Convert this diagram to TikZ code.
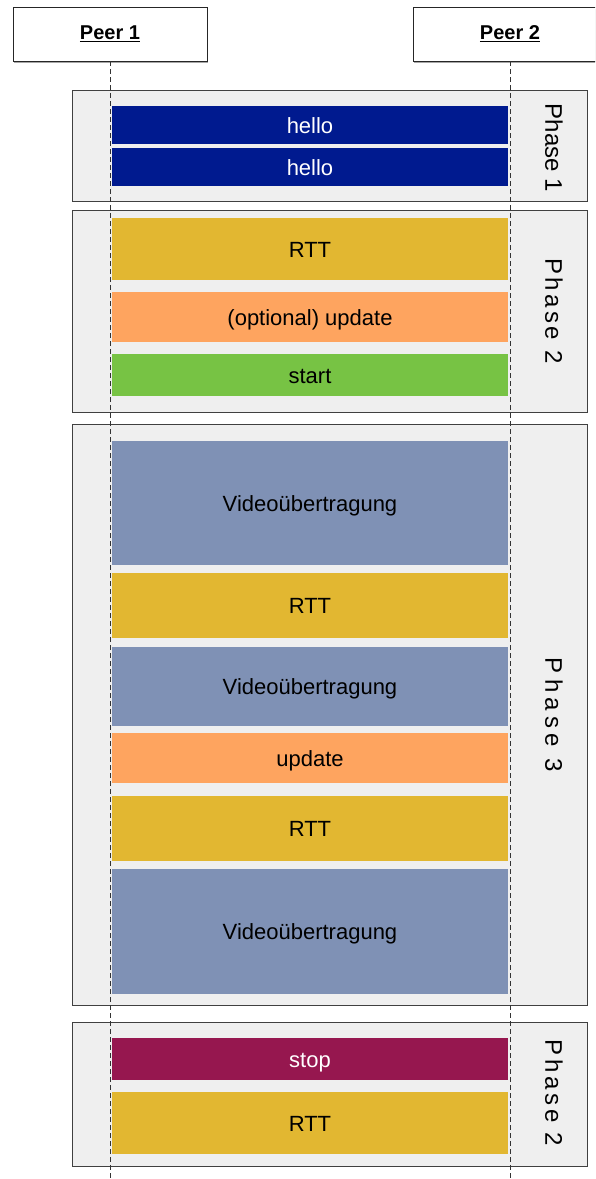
\documentclass[tikz,border=0pt]{standalone}
\usepackage{fontspec}
\setmainfont{Liberation Sans}
\usepackage{tikz}
\usetikzlibrary{shadows}
\usetikzlibrary{positioning}
\definecolor{sd-frame}{HTML}{EFEFEF}
\definecolor{sd-hello}{HTML}{001A8F}
\definecolor{sd-rtt}{HTML}{E2B731}
\definecolor{sd-update}{HTML}{FEA45F}
\definecolor{sd-start}{HTML}{77C344}
\definecolor{sd-video}{HTML}{7F91B5}
\definecolor{sd-stop}{HTML}{96174F}

\begin{document}
\begin{tikzpicture}[x=1pt, y=-1pt,
    peer/.style={draw=black!85, fill=white, line width=0.8pt, minimum width=194pt, minimum height=54pt,
        font=\fontsize{20}{24}\selectfont\bfseries,
        drop shadow={shadow xshift=1pt, shadow yshift=-2pt, opacity=0.35, fill=black}},
    phase/.style={draw=black!75, fill=sd-frame, line width=0.8pt, minimum width=515pt, inner sep=0pt},
    msg/.style={minimum width=396pt, inner sep=0pt, text height=21pt, text depth=5pt,
        font=\fontsize{22}{26}\selectfont},
    phaselabel/.style={rotate=-90, inner sep=0pt, font=\fontsize{24}{28}\selectfont},
    lifeline/.style={dash pattern=on 5pt off 3pt, line width=0.8pt, black!80}]
    \clip (0,0) rectangle (595,1179);
    \coordinate (bottom) at (0,1179);

    % Peers
    \node[peer] (peer1) at (110,34) {\underline{Peer 1}};
    \node[peer] (peer2) at (510,34) {\underline{Peer 2}};

    % Phase frames
    \node[phase, minimum height=111pt] (ph1) at (329.5,145.5) {};
    \node[phase, minimum height=202pt] (ph2) at (329.5,311) {};
    \node[phase, minimum height=581pt] (ph3) at (329.5,714.5) {};
    \node[phase, minimum height=144pt] (ph4) at (329.5,1094) {};

    \node[phaselabel] (lab1) at (554,148) {Phase 1};
    \node[phaselabel] (lab2) at (554,311) {\addfontfeature{LetterSpace=14}Phase 2};
    \node[phaselabel] (lab3) at (554,715) {\addfontfeature{LetterSpace=22}Phase 3};
    \node[phaselabel] (lab4) at (554,1093) {\addfontfeature{LetterSpace=15}Phase 2};

    % Lifelines
    \draw[lifeline] (peer1) -- (peer1 |- bottom);
    \draw[lifeline] (peer2) -- (peer2 |- bottom);

    % --- Phase 1 ---
    \node[msg, fill=sd-hello, text=white, minimum height=38pt] (hello1) at (310,125) {hello};
    \node[msg, fill=sd-hello, text=white, minimum height=38pt] (hello2) at (310,167) {hello};

    % --- Phase 2 ---
    \node[msg, fill=sd-rtt, minimum height=62pt] (rtt1) at (310,249) {RTT};
    \node[msg, fill=sd-update, minimum height=50pt] (upd1) at (310,317) {(optional) update};
    \node[msg, fill=sd-start, minimum height=42pt] (start) at (310,375) {start};

    % --- Phase 3 ---
    \node[msg, fill=sd-video, minimum height=124pt] (vid1) at (310,503) {Videoübertragung};
    \node[msg, fill=sd-rtt, minimum height=65pt] (rtt2) at (310,605.5) {RTT};
    \node[msg, fill=sd-video, minimum height=79pt] (vid2) at (310,686.5) {Videoübertragung};
    \node[msg, fill=sd-update, minimum height=50pt] (upd2) at (310,758) {update};
    \node[msg, fill=sd-rtt, minimum height=65pt] (rtt3) at (310,828.5) {RTT};
    \node[msg, fill=sd-video, minimum height=125pt] (vid3) at (310,931.5) {Videoübertragung};

    % --- closing phase ---
    \node[msg, fill=sd-stop, text=white, minimum height=42pt] (stop) at (310,1059) {stop};
    \node[msg, fill=sd-rtt, minimum height=62pt] (rtt4) at (310,1123) {RTT};
\end{tikzpicture}
\end{document}
